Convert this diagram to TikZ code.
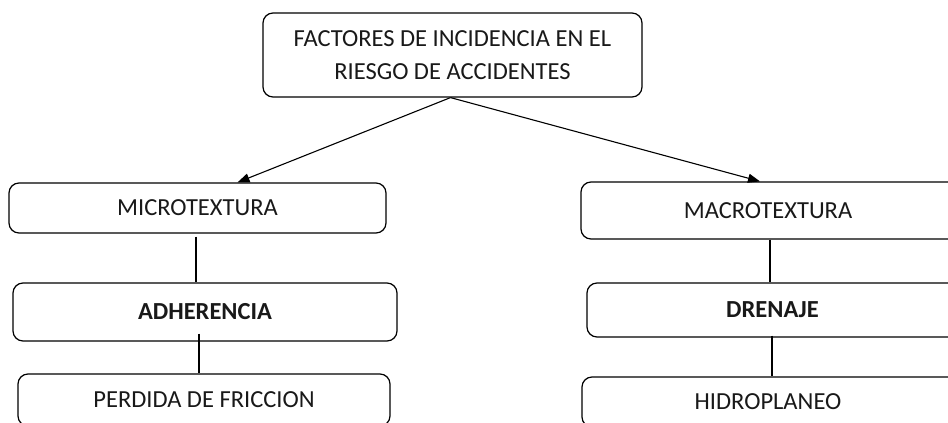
\documentclass[tikz,border=0pt]{standalone}
\usepackage{fontspec}
\setmainfont{Carlito}
\usetikzlibrary{arrows.meta,calc}
\begin{document}
\begin{tikzpicture}[x=1pt,y=-1pt,
  box/.style={draw, line width=1.2pt, rounded corners=10pt, inner sep=0pt,
    align=center, font=\fontsize{24.5}{33}\selectfont, text=black!90},
  link/.style={line width=1.1pt},
  arr/.style={line width=1.1pt, -{Triangle[length=12pt,width=9pt]}}]
\useasboundingbox (0,0) rectangle (948,423);
\clip (0,0) rectangle (948,423);
\fill[white] (0,0) rectangle (948,423);
\node[box, minimum width=379pt, minimum height=84pt] (top) at (452.5,55)
  {FACTORES DE INCIDENCIA EN EL\\RIESGO DE ACCIDENTES};
\node[box, minimum width=377pt, minimum height=50pt] (micro) at (197.5,208) {MICROTEXTURA};
\node[box, minimum width=384pt, minimum height=58pt] (adh) at (205,312) {\textbf{ADHERENCIA}};
\node[box, minimum width=372pt, minimum height=52pt] (perd) at (204,400) {PERDIDA DE FRICCION};
\node[box, minimum width=414pt, minimum height=57pt] (macro) at (788,210.5) {MACROTEXTURA\hspace*{40pt}};
\node[box, minimum width=411pt, minimum height=54pt] (dren) at (792.5,310) {\textbf{DRENAJE}\hspace*{40pt}};
\node[box, minimum width=412pt, minimum height=50pt] (hidro) at (788,402) {HIDROPLANEO\hspace*{40pt}};
\draw[arr] ($(top.south)+(-2,0)$) -- ($(micro.north)+(40,0)$);
\draw[arr] ($(top.south)+(-2,0)$) -- ($(macro.north)+(-28,0)$);
\draw[link] ($(micro.south)+(-1.5,3)$) -- ($(adh.north)+(-9,0)$);
\draw[link] ($(adh.south)+(-6,-8)$) -- ($(perd.north)+(-5,0)$);
\draw[link] ($(macro.south)+(-18,0)$) -- ($(dren.north)+(-22.5,0)$);
\draw[link] ($(dren.south)+(-20.5,-2)$) -- ($(hidro.north)+(-16,0)$);
\end{tikzpicture}
\end{document}
